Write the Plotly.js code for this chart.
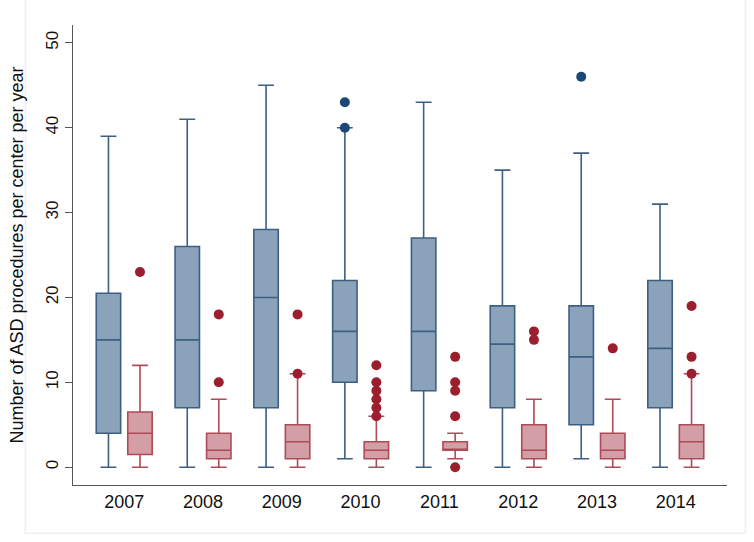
<!DOCTYPE html>
<html>
<head>
<meta charset="utf-8">
<script src="https://cdn.plot.ly/plotly-3.0.1.min.js"></script>
<style>
  html, body { margin: 0; padding: 0; background: #ffffff; }
  #chart { width: 754px; height: 542px; }
</style>
</head>
<body>
<div id="chart"></div>
<script>
// ---- data ----
const years = ["2007", "2008", "2009", "2010", "2011", "2012", "2013", "2014"];

// first group (blue boxes)
const blueLow    = [0, 0, 0, 1, 0, 0, 1, 0];
const blueQ1     = [4, 7, 7, 10, 9, 7, 5, 7];
const blueMedian = [15, 15, 20, 16, 16, 14.5, 13, 14];
const blueQ3     = [20.5, 26, 28, 22, 27, 19, 19, 22];
const blueHigh   = [39, 41, 45, 40, 43, 35, 37, 31];
const blueOutYear  = ["2010", "2010", "2013"];
const blueOutValue = [40, 43, 46];

// second group (red boxes)
const redLow    = [0, 0, 0, 0, 1, 0, 0, 0];
const redQ1     = [1.5, 1, 1, 1, 2, 1, 1, 1];
const redMedian = [4, 2, 3, 2, 2, 2, 2, 3];
const redQ3     = [6.5, 4, 5, 3, 3, 5, 4, 5];
const redHigh   = [12, 8, 11, 6, 4, 8, 8, 11];
const redOutYear  = ["2007", "2008", "2008", "2009", "2009",
                     "2010", "2010", "2010", "2010", "2010", "2010",
                     "2011", "2011", "2011", "2011", "2011",
                     "2012", "2012", "2013", "2014", "2014", "2014"];
const redOutValue = [23, 10, 18, 11, 18,
                     6, 7, 8, 9, 10, 12,
                     0, 6, 9, 10, 13,
                     15, 16, 14, 11, 13, 19];

// ---- styling ----
const blueFill = "#8ba2bb", blueLine = "#3e5f84", blueDot = "#1b4878";
const redFill  = "#d49ea6", redLine  = "#ad4b58", redDot  = "#9c1f2f";
const shift = 0.2, boxW = 0.31;

const idx = years.map((_, i) => i);
const posOf = (y, d) => years.indexOf(y) + d;

const traces = [
  {
    type: "box", name: "blue",
    x: idx.map(i => i - shift),
    lowerfence: blueLow, q1: blueQ1, median: blueMedian, q3: blueQ3, upperfence: blueHigh,
    width: boxW, whiskerwidth: 0.65, boxpoints: false,
    fillcolor: blueFill, line: { color: blueLine, width: 1.6 },
    hoverinfo: "skip", showlegend: false
  },
  {
    type: "box", name: "red",
    x: idx.map(i => i + shift),
    lowerfence: redLow, q1: redQ1, median: redMedian, q3: redQ3, upperfence: redHigh,
    width: boxW, whiskerwidth: 0.65, boxpoints: false,
    fillcolor: redFill, line: { color: redLine, width: 1.6 },
    hoverinfo: "skip", showlegend: false
  },
  {
    type: "scatter", mode: "markers",
    x: blueOutYear.map(y => posOf(y, -shift)), y: blueOutValue,
    marker: { color: blueDot, size: 10 },
    hoverinfo: "skip", showlegend: false
  },
  {
    type: "scatter", mode: "markers",
    x: redOutYear.map(y => posOf(y, shift)), y: redOutValue,
    marker: { color: redDot, size: 10 },
    hoverinfo: "skip", showlegend: false
  }
];

const layout = {
  width: 754, height: 542,
  paper_bgcolor: "#ffffff", plot_bgcolor: "#ffffff",
  margin: { l: 73, r: 27, t: 25, b: 57 },
  font: { family: "Liberation Sans, Arial, sans-serif", color: "#111111" },
  showlegend: false,
  xaxis: {
    range: [-0.65, 7.65], tickmode: "array", tickvals: idx, ticktext: years,
    showgrid: false, zeroline: false, showline: true, linecolor: "#555555", linewidth: 1.3,
    ticks: "", tickfont: { size: 18, color: "#111111" }, fixedrange: true
  },
  yaxis: {
    range: [-2.1, 52.1], tickmode: "array", tickvals: [0, 10, 20, 30, 40, 50],
    showgrid: false, zeroline: false, showline: true, linecolor: "#555555", linewidth: 1.3,
    ticks: "outside", ticklen: 7, tickcolor: "#555555", tickwidth: 1.2,
    tickangle: -90, tickfont: { size: 17, color: "#111111" },
    title: { text: "Number of ASD procedures per center per year", font: { size: 18, color: "#111111" }, standoff: 14 },
    fixedrange: true
  },
  shapes: [
    { type: "rect", xref: "paper", yref: "paper", x0: -0.073, x1: 1.028, y0: -0.105, y1: 1.06,
      line: { color: "#eef1f4", width: 1.5 }, fillcolor: "rgba(0,0,0,0)", layer: "below" }
  ]
};

Plotly.newPlot("chart", traces, layout, { displayModeBar: false, staticPlot: true });
</script>
</body>
</html>
